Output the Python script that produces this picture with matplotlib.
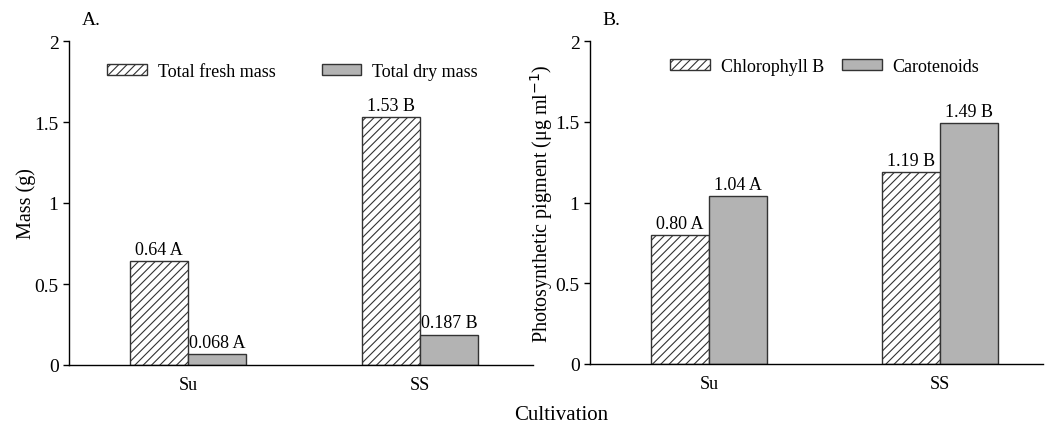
import matplotlib
matplotlib.use("Agg")
import matplotlib.pyplot as plt
import numpy as np

categories = ["Su", "SS"]
fresh_mass = [0.64, 1.53]
dry_mass = [0.068, 0.187]
fresh_labels = ["0.64 A", "1.53 B"]
dry_labels = ["0.068 A", "0.187 B"]

chl_b = [0.80, 1.19]
carot = [1.04, 1.49]
chl_labels = ["0.80 A", "1.19 B"]
carot_labels = ["1.04 A", "1.49 B"]

yticks = [0, 0.5, 1, 1.5, 2]
ytick_labels = ["0", "0.5", "1", "1.5", "2"]

plt.rcParams['font.family'] = ['Liberation Serif', 'DejaVu Serif']
plt.rcParams['font.size'] = 13
plt.rcParams['hatch.linewidth'] = 0.8

W, H = 1046, 427
fig = plt.figure(figsize=(W / 100, H / 100), dpi=100)

GRAY = "#b3b3b3"
EDGE = "#333333"
bw = 0.252
x = np.arange(len(categories))


def panel(rect, xlim, s1, s2, l1, l2, name1, name2, ylabel, letter, leg_anchor, colsp, lpad):
    ax = fig.add_axes(rect)
    b1 = ax.bar(x - bw / 2, s1, bw, facecolor="white", edgecolor=EDGE, hatch="////",
                linewidth=1.0, label=name1)
    b2 = ax.bar(x + bw / 2, s2, bw, facecolor=GRAY, edgecolor=EDGE,
                linewidth=1.0, label=name2)
    for bars, labs in ((b1, l1), (b2, l2)):
        for r, t in zip(bars, labs):
            ax.text(r.get_x() + r.get_width() / 2, r.get_height() + 0.02, t,
                    ha="center", va="bottom", fontsize=13)
    ax.set_xlim(*xlim)
    ax.set_ylim(0, 2)
    ax.set_yticks(yticks)
    ax.set_yticklabels(ytick_labels)
    ax.set_xticks(x)
    ax.set_xticklabels(categories)
    ax.tick_params(axis="x", length=0, pad=8, labelsize=13)
    ax.tick_params(axis="y", length=4, width=1, direction="out", labelsize=14)
    for s in ("top", "right"):
        ax.spines[s].set_visible(False)
    for s in ("left", "bottom"):
        ax.spines[s].set_linewidth(1.0)
    ax.set_ylabel(ylabel, fontsize=14.5, labelpad=lpad)
    ax.text(0.028, 1.04, letter, transform=ax.transAxes, fontsize=14, ha="left", va="bottom")
    ax.legend(loc="upper left", bbox_to_anchor=leg_anchor, ncol=2, frameon=False,
              handlelength=2.2, handleheight=0.6, columnspacing=colsp, handletextpad=0.6,
              fontsize=13, borderaxespad=0)
    return ax


axA = panel([69 / W, 61 / H, 464 / W, 324 / H], (-0.513, 1.487),
            fresh_mass, dry_mass, fresh_labels, dry_labels,
            "Total fresh mass", "Total dry mass", "Mass (g)", "A.", (0.067, 0.955), 2.55, -1)
axB = panel([590 / W, 62 / H, 453 / W, 323 / H], (-0.515, 1.446),
            chl_b, carot, chl_labels, carot_labels,
            "Chlorophyll B", "Carotenoids", "Photosynthetic pigment (μg ml$^{-1}$)", "B.",
            (0.161, 0.97), 1.0, 0)

fig.text(561 / W, 1 - 416 / H, "Cultivation", ha="center", va="center", fontsize=15)

fig.savefig("out.png", dpi=100)
